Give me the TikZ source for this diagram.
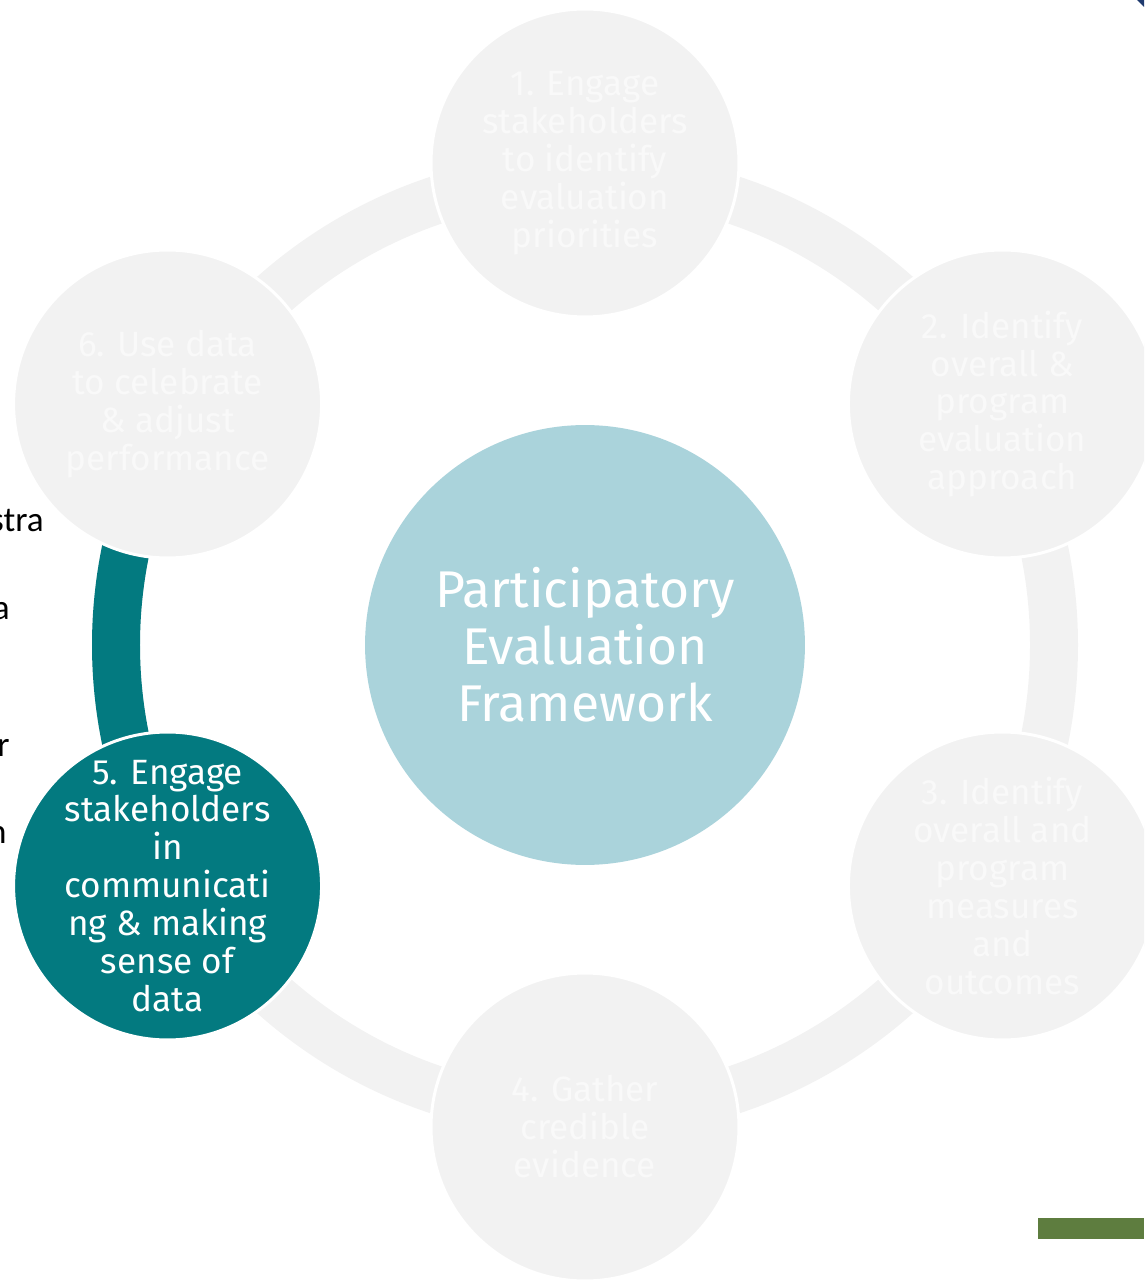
\documentclass[tikz,border=0pt]{standalone}
\usepackage{fontspec}
\setmainfont{Fira Sans}
\newfontfamily\slidefont{Carlito}
\definecolor{stepgrey}{HTML}{F2F2F2}
\definecolor{steptxt}{HTML}{F9F9F9}
\definecolor{stepteal}{HTML}{037A80}
\definecolor{hubblue}{HTML}{AAD3DB}
\definecolor{barGreen}{HTML}{5E7D3F}
\definecolor{cornerBlue}{HTML}{1F3A6E}
\begin{document}
\begin{tikzpicture}[
  x=0.02cm, y=0.02cm,
  stepdisc/.style={circle, fill=stepgrey, draw=white, line width=1.7pt, minimum size=6.16cm, inner sep=0pt},
  steptext/.style={align=center, text=steptxt, inner sep=0pt, font=\fontsize{20}{21.6}\selectfont},
  cycle ring/.style={draw=stepgrey, line width=0.96cm},
  slidetext/.style={anchor=base east, inner sep=0pt, font=\slidefont\fontsize{20}{24}\selectfont}
]
\useasboundingbox (-585,-635) rectangle (559,645);
\clip (-585,-635) rectangle (559,645);

% ring and highlighted segment
\draw[cycle ring] (0,0) circle [radius=469];
\draw[cycle ring, draw=stepteal] (150:469) arc (150:210:469);

% text of the slide behind
\node[slidetext] (back1) at (-541,113) {stra};
\node[slidetext] (back2) at (-575,25) {a};
\node[slidetext] (back3) at (-575,-112) {r};
\node[slidetext] (back4) at (-578,-198) {n};

% centre
\node[circle, fill=hubblue, minimum size=8.8cm, inner sep=0pt, align=center, text=white,
  font=\fontsize{29.4}{32.4}\selectfont] (hub) at (0,0) {Participatory\\Evaluation\\Framework};

% steps
\node[stepdisc] (s1) at (90:482) {};
\node[stepdisc] (s2) at (30:482) {};
\node[stepdisc] (s3) at (-30:482) {};
\node[stepdisc] (s4) at (-90:482) {};
\node[stepdisc, fill=stepteal] (s5) at (210:482) {};
\node[stepdisc] (s6) at (150:482) {};

\node[steptext] (t1) at (s1) {1. Engage\\stakeholders\\to identify\\evaluation\\priorities};
\node[steptext] (t2) at (s2) {2. Identify\\overall \&\\program\\evaluation\\approach};
\node[steptext] (t3) at (s3) {3. Identify\\overall and\\program\\measures\\and\\outcomes};
\node[steptext] (t4) at (s4) {4. Gather\\credible\\evidence};
\node[steptext, text=white] (t5) at (s5) {5. Engage\\stakeholders\\in\\communicati\\ng \& making\\sense of\\data};
\node[steptext] (t6) at (s6) {6. Use data\\to celebrate\\\& adjust\\performance};

% slide decorations
\fill[barGreen] (453,-573) rectangle (559,-594);
\fill[cornerBlue] (552,645) -- (559,645) -- (559,638) -- cycle;
\end{tikzpicture}
\end{document}
